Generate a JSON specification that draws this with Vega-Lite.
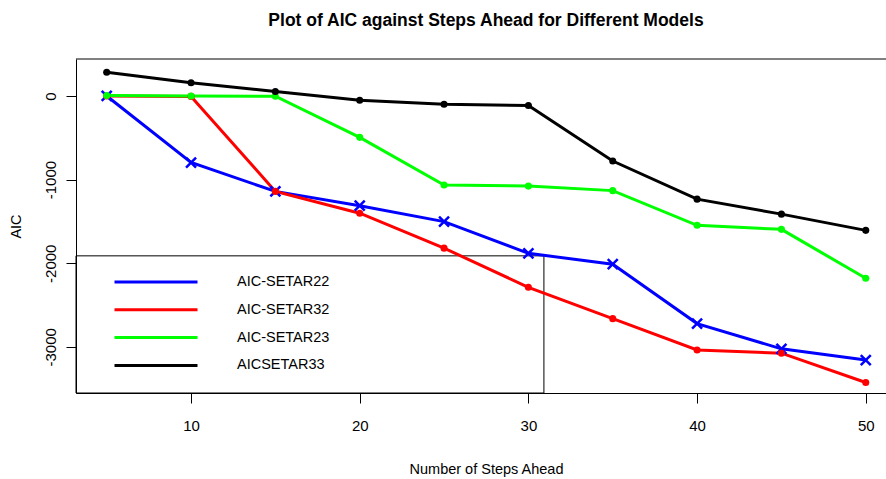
{
  "$schema": "https://vega.github.io/schema/vega-lite/v6.json",
  "width": 810,
  "height": 334,
  "autosize": {"type": "none"},
  "padding": {"left": 76, "top": 59, "right": 0, "bottom": 86},
  "background": "white",
  "config": {
    "view": {"stroke": null},
    "font": "Liberation Sans",
    "axis": {
      "grid": false,
      "domainColor": "black",
      "tickColor": "black",
      "labelColor": "black",
      "titleColor": "black",
      "labelFont": "Liberation Sans",
      "titleFont": "Liberation Sans",
      "labelFontSize": 15,
      "titleFontSize": 14.5,
      "titleFontWeight": "normal",
      "labelFlush": false,
      "labelOverlap": false,
      "tickSize": 10
    }
  },
  "title": {
    "text": "Plot of AIC against Steps Ahead for Different Models",
    "font": "Liberation Sans",
    "fontSize": 17.5,
    "fontWeight": "bold",
    "color": "black",
    "anchor": "middle",
    "frame": "group",
    "dx": 5,
    "offset": 15,
    "baseline": "alphabetic"
  },
  "data": {
    "values": [
      {"steps": 5, "model": "AIC-SETAR22", "aic": 0},
      {"steps": 10, "model": "AIC-SETAR22", "aic": -796},
      {"steps": 15, "model": "AIC-SETAR22", "aic": -1141},
      {"steps": 20, "model": "AIC-SETAR22", "aic": -1312},
      {"steps": 25, "model": "AIC-SETAR22", "aic": -1503},
      {"steps": 30, "model": "AIC-SETAR22", "aic": -1882},
      {"steps": 35, "model": "AIC-SETAR22", "aic": -2012},
      {"steps": 40, "model": "AIC-SETAR22", "aic": -2722},
      {"steps": 45, "model": "AIC-SETAR22", "aic": -3024},
      {"steps": 50, "model": "AIC-SETAR22", "aic": -3158},
      {"steps": 5, "model": "AIC-SETAR32", "aic": 0},
      {"steps": 10, "model": "AIC-SETAR32", "aic": -5},
      {"steps": 15, "model": "AIC-SETAR32", "aic": -1141},
      {"steps": 20, "model": "AIC-SETAR32", "aic": -1402},
      {"steps": 25, "model": "AIC-SETAR32", "aic": -1820},
      {"steps": 30, "model": "AIC-SETAR32", "aic": -2288},
      {"steps": 35, "model": "AIC-SETAR32", "aic": -2663},
      {"steps": 40, "model": "AIC-SETAR32", "aic": -3038},
      {"steps": 45, "model": "AIC-SETAR32", "aic": -3076},
      {"steps": 50, "model": "AIC-SETAR32", "aic": -3426},
      {"steps": 5, "model": "AIC-SETAR23", "aic": 5},
      {"steps": 10, "model": "AIC-SETAR23", "aic": 0},
      {"steps": 15, "model": "AIC-SETAR23", "aic": -3},
      {"steps": 20, "model": "AIC-SETAR23", "aic": -495},
      {"steps": 25, "model": "AIC-SETAR23", "aic": -1064},
      {"steps": 30, "model": "AIC-SETAR23", "aic": -1078},
      {"steps": 35, "model": "AIC-SETAR23", "aic": -1132},
      {"steps": 40, "model": "AIC-SETAR23", "aic": -1547},
      {"steps": 45, "model": "AIC-SETAR23", "aic": -1595},
      {"steps": 50, "model": "AIC-SETAR23", "aic": -2180},
      {"steps": 5, "model": "AICSETAR33", "aic": 283},
      {"steps": 10, "model": "AICSETAR33", "aic": 157},
      {"steps": 15, "model": "AICSETAR33", "aic": 54},
      {"steps": 20, "model": "AICSETAR33", "aic": -51},
      {"steps": 25, "model": "AICSETAR33", "aic": -99},
      {"steps": 30, "model": "AICSETAR33", "aic": -113},
      {"steps": 35, "model": "AICSETAR33", "aic": -778},
      {"steps": 40, "model": "AICSETAR33", "aic": -1234},
      {"steps": 45, "model": "AICSETAR33", "aic": -1413},
      {"steps": 50, "model": "AICSETAR33", "aic": -1607}
    ]
  },
  "layer": [
    {
      "data": {"values": [{}]},
      "mark": {"type": "rule", "color": "black", "strokeWidth": 1},
      "encoding": {"y": {"datum": 442, "type": "quantitative"}}
    },
    {
      "data": {"values": [{}]},
      "mark": {"type": "rect", "filled": false, "stroke": "black", "strokeWidth": 1},
      "encoding": {
        "x": {"datum": 3.18, "type": "quantitative"},
        "x2": {"datum": 30.92},
        "y": {"datum": -1912, "type": "quantitative"},
        "y2": {"datum": -3552}
      }
    },
    {
      "mark": {"type": "line", "strokeWidth": 3},
      "encoding": {
        "x": {
          "field": "steps",
          "type": "quantitative",
          "scale": {"domain": [3.18, 51.2], "nice": false, "zero": false},
          "axis": {
            "values": [10, 20, 30, 40, 50],
            "labelPadding": 15,
            "labelBaseline": "top",
            "title": "Number of Steps Ahead",
            "titleX": 410,
            "titleY": 80,
            "titleBaseline": "alphabetic",
            "titleAlign": "center",
            "titleAnchor": null
          }
        },
        "y": {
          "field": "aic",
          "type": "quantitative",
          "scale": {"domain": [-3552, 442], "nice": false, "zero": false},
          "axis": {
            "values": [0, -1000, -2000, -3000],
            "labelExpr": "datum.value < 0 ? '-' + format(abs(datum.value), 'd') : format(datum.value, 'd')",
            "labelAngle": 270,
            "labelAlign": "center",
            "labelBaseline": "alphabetic",
            "labelPadding": 11,
            "title": "AIC",
            "titleAngle": 270,
            "titleX": -56,
            "titleY": 167,
            "titleAlign": "center",
            "titleBaseline": "alphabetic",
            "titleAnchor": null
          }
        },
        "color": {
          "field": "model",
          "type": "nominal",
          "scale": {
            "domain": ["AIC-SETAR22", "AIC-SETAR32", "AIC-SETAR23", "AICSETAR33"],
            "range": ["#0000ff", "#ff0000", "#00ff00", "#000000"]
          },
          "legend": {
            "title": null,
            "orient": "none",
            "legendX": 37,
            "legendY": 213,
            "symbolType": "stroke",
            "symbolSize": 6889,
            "symbolStrokeWidth": 3,
            "labelFont": "Liberation Sans",
            "labelFontSize": 14.5,
            "labelColor": "black",
            "labelOffset": 38,
            "labelLimit": 300,
            "clipHeight": 20,
            "rowPadding": 7.8,
            "padding": 0
          }
        }
      }
    },
    {
      "transform": [{"filter": "datum.model === 'AIC-SETAR22'"}],
      "mark": {
        "type": "point",
        "shape": "M-1,-1L1,1M-1,1L1,-1",
        "filled": false,
        "size": 100,
        "strokeWidth": 2.5,
        "opacity": 1
      },
      "encoding": {
        "x": {"field": "steps", "type": "quantitative"},
        "y": {"field": "aic", "type": "quantitative"},
        "color": {"field": "model", "type": "nominal", "legend": null}
      }
    },
    {
      "transform": [{"filter": "datum.model !== 'AIC-SETAR22'"}],
      "mark": {"type": "point", "shape": "circle", "filled": true, "size": 50, "opacity": 1},
      "encoding": {
        "x": {"field": "steps", "type": "quantitative"},
        "y": {"field": "aic", "type": "quantitative"},
        "color": {"field": "model", "type": "nominal", "legend": null}
      }
    }
  ]
}
